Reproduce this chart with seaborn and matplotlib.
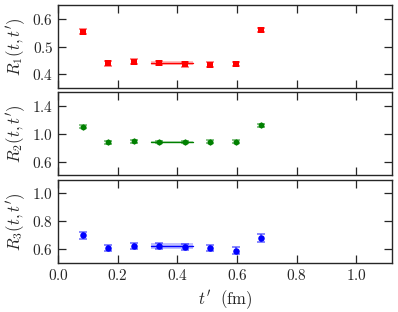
import matplotlib
matplotlib.use("Agg")
import matplotlib.pyplot as plt
import numpy as np
import seaborn as sns

# t' values (fm) and ratios for the three channels
t_prime = [0.085, 0.169, 0.254, 0.340, 0.425, 0.510, 0.595, 0.680]

r1_val = [0.554, 0.439, 0.446, 0.440, 0.436, 0.435, 0.438, 0.560]
r1_err = [0.008, 0.008, 0.008, 0.008, 0.008, 0.008, 0.008, 0.008]
r2_val = [1.105, 0.880, 0.890, 0.882, 0.882, 0.888, 0.888, 1.122]
r2_err = [0.020, 0.020, 0.020, 0.020, 0.020, 0.020, 0.020, 0.020]
r3_val = [0.698, 0.607, 0.620, 0.620, 0.614, 0.605, 0.588, 0.676]
r3_err = [0.025, 0.022, 0.022, 0.024, 0.024, 0.024, 0.026, 0.028]

# constant fits over the plateau
fit_range = [0.31, 0.452]
fit_val = [0.440, 0.882, 0.620]
fit_err = [0.008, 0.012, 0.022]

panels = [
    (r1_val, r1_err, "red", "s", r"$R_1(t,t')$", (0.35, 0.65), [0.4, 0.5, 0.6]),
    (r2_val, r2_err, "green", "h", r"$R_2(t,t')$", (0.4, 1.6), [0.6, 1.0, 1.4]),
    (r3_val, r3_err, "blue", "o", r"$R_3(t,t')$", (0.5, 1.1), [0.6, 0.8, 1.0]),
]

sns.set_style("ticks")
plt.rcParams["font.family"] = ["cmr10"]
plt.rcParams["mathtext.fontset"] = "cm"
plt.rcParams["axes.formatter.use_mathtext"] = True
plt.rcParams["font.size"] = 11

fig, axes = plt.subplots(3, 1, figsize=(3.98, 3.12), dpi=100, sharex=True)
fig.subplots_adjust(left=0.146, right=0.985, top=0.984, bottom=0.158, hspace=0.05)

for k, (ax, (vals, errs, col, mk, lab, ylim, yt)) in enumerate(zip(axes, panels)):
    ax.errorbar(t_prime, vals, yerr=errs, fmt="none", ecolor=col, alpha=0.55,
                elinewidth=1.2, capsize=3, capthick=1.2)
    sns.scatterplot(x=t_prime, y=vals, color=col, marker=mk, s=22, edgecolor=col,
                    linewidth=0, ax=ax, zorder=3)
    fx = np.array(fit_range)
    ax.fill_between(fx, fit_val[k] - fit_err[k], fit_val[k] + fit_err[k],
                    color=col, alpha=0.25, linewidth=0)
    ax.plot(fx, [fit_val[k], fit_val[k]], color=col, lw=1)
    ax.set_ylim(*ylim)
    ax.set_yticks(yt)
    ax.set_ylabel(lab, fontsize=12, labelpad=4)
    ax.tick_params(direction="in", top=True, right=True, length=6, width=0.9,
                   labelsize=11)
    for s in ax.spines.values():
        s.set_linewidth(1.0)

axes[-1].set_xlim(0, 1.12)
axes[-1].set_xticks([0.0, 0.2, 0.4, 0.6, 0.8, 1.0])
axes[-1].set_xlabel(r"$t'\ \ (\mathrm{fm})$", fontsize=12)

fig.savefig("out.png", dpi=100)
